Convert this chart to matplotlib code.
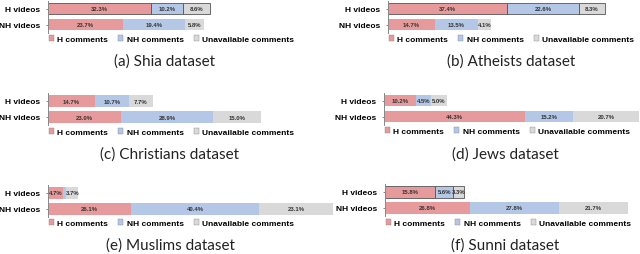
import matplotlib
matplotlib.use("Agg")
from matplotlib import pyplot as plt
from matplotlib.patches import Patch

# data: [H comments, NH comments, Unavailable comments] per video class
rows = ["NH videos", "H videos"]
series = ["H comments", "NH comments", "Unavailable comments"]
colors = ["#E69A9B", "#B4C7E7", "#D9D9D9"]

shia_h = [32.3, 10.2, 8.6]
shia_nh = [23.7, 19.4, 5.8]
atheists_h = [37.4, 22.6, 8.3]
atheists_nh = [14.7, 13.5, 4.1]
christians_h = [14.7, 10.7, 7.7]
christians_nh = [23.0, 28.9, 15.0]
jews_h = [10.2, 4.5, 5.0]
jews_nh = [44.3, 15.2, 20.7]
muslims_h = [4.7, 1.1, 3.7]
muslims_nh = [26.1, 40.4, 23.1]
sunni_h = [15.8, 5.6, 3.3]
sunni_nh = [26.8, 27.8, 21.7]

captions = ["(a) Shia dataset", "(b) Atheists dataset", "(c) Christians dataset",
            "(d) Jews dataset", "(e) Muslims dataset", "(f) Sunni dataset"]
panels = [(shia_h, shia_nh), (atheists_h, atheists_nh), (christians_h, christians_nh),
          (jews_h, jews_nh), (muslims_h, muslims_nh), (sunni_h, sunni_nh)]
# row (1 = H videos) that shows a dark selection outline in the source figure
outlined = [1, 1, None, None, None, 1]

W, H = 640, 255
SCALE = 3.18  # px per percent
# layout in pixels: axis x, H bar center y, legend y, caption center x, caption y
layout = [
    (48, 9.5, 40, 165, 62),
    (388, 9.5, 40, 511, 62),
    (48, 102, 133, 170, 155),
    (384, 101.5, 132, 505, 155),
    (48, 194, 224, 170, 246),
    (385, 193, 224, 505, 246),
]

plt.rcParams["font.family"] = ["Liberation Sans", "DejaVu Sans"]
fig = plt.figure(figsize=(W / 100, H / 100), dpi=100)

for (h_vals, nh_vals), cap, (ax_x, hy, ly, cx, cy), out_row in zip(panels, captions, layout, outlined):
    xmax = 90 if ax_x < 320 else (W - ax_x) / SCALE
    top = hy - 8
    ax = fig.add_axes([ax_x / W, 1 - (top + 32) / H, xmax * SCALE / W, 32 / H])
    ax.set_xlim(0, xmax)
    ax.set_ylim(-0.5, 1.5)
    for yi, vals in ((0, nh_vals), (1, h_vals)):
        left = 0
        edge = "#555555" if yi == out_row else "none"
        for v, c in zip(vals, colors):
            ax.barh(yi, v, left=left, height=0.7, color=c, edgecolor=edge,
                    linewidth=0.6, zorder=2)
            if v >= 2:
                ax.text(left + v / 2, yi, f"{v:.1f}%", ha="center", va="center",
                        fontsize=4.3, fontweight="bold", color="#333333", zorder=3)
            left += v
    ax.set_yticks([0, 1])
    ax.set_yticklabels(rows, fontsize=6, fontweight="bold")
    ax.tick_params(axis="y", direction="inout", length=3, width=0.6, color="#777777", pad=4)
    ax.set_xticks([])
    for s in ["top", "right", "bottom"]:
        ax.spines[s].set_visible(False)
    ax.spines["left"].set_color("#888888")
    ax.spines["left"].set_linewidth(0.7)
    ax.patch.set_alpha(0)

    handles = [Patch(facecolor=c, edgecolor="#888888", linewidth=0.3) for c in colors]
    fig.legend(handles, series, loc="center left", ncol=3, frameon=False,
               bbox_to_anchor=((ax_x + 1) / W, 1 - ly / H),
               prop={"size": 6, "weight": "bold"}, handlelength=0.6, handleheight=0.6,
               handletextpad=0.4, columnspacing=1.2, borderpad=0, borderaxespad=0)

    fig.text(cx / W, 1 - cy / H, cap, ha="center", va="center", fontsize=11,
             family=["Lato", "DejaVu Sans"], color="#222222")

fig.savefig("out.png", dpi=100)
